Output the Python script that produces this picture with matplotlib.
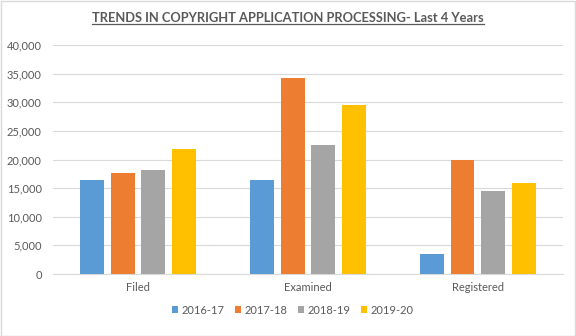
import matplotlib
matplotlib.use("Agg")
import matplotlib.pyplot as plt
import numpy as np
from matplotlib.patches import Rectangle
from matplotlib.ticker import FuncFormatter

categories = ["Filed", "Examined", "Registered"]
series_names = ["2016-17", "2017-18", "2018-19", "2019-20"]
v_2016_17 = [16500, 16500, 3550]
v_2017_18 = [17700, 34300, 20000]
v_2018_19 = [18200, 22600, 14550]
v_2019_20 = [21750, 29600, 15950]
values = [v_2016_17, v_2017_18, v_2018_19, v_2019_20]
colors = ["#5B9BD5", "#ED7D31", "#A5A5A5", "#FFC000"]
yticks = [0, 5000, 10000, 15000, 20000, 25000, 30000, 35000, 40000]

plt.rcParams['font.family'] = ['Lato', 'DejaVu Sans']
fig = plt.figure(figsize=(5.76, 3.36), dpi=100)
ax = fig.add_axes([0.092, 0.1845, 0.885, 0.6815])

x = np.arange(len(categories))
pitch = 0.18
width = 0.141
for i, (name, vals, c) in enumerate(zip(series_names, values, colors)):
    ax.bar(x + (i - 1.5) * pitch, vals, width=width, color=c, label=name, zorder=3)

ax.set_xlim(-0.5, 2.5)
ax.set_ylim(0, 40000)
ax.set_yticks(yticks)
ax.yaxis.set_major_formatter(FuncFormatter(lambda v, p: f"{int(v):,}"))
ax.set_xticks(x)
ax.set_xticklabels(categories)
ax.grid(axis='y', color="#D9D9D9", linewidth=0.8, zorder=0)
for s in ["top", "right", "left"]:
    ax.spines[s].set_visible(False)
ax.spines["bottom"].set_color("#D9D9D9")
ax.tick_params(axis='both', length=0, colors="#595959", labelsize=8)
ax.tick_params(axis='y', pad=8)
ax.tick_params(axis='x', pad=6)

leg = ax.legend(loc='upper center', bbox_to_anchor=(0.47, -0.09), ncol=4, frameon=False,
                fontsize=8, handlelength=0.6, handleheight=0.6, handletextpad=0.3,
                columnspacing=0.9, labelcolor="#595959")

title = fig.text(0.5, 0.945, "TRENDS IN COPYRIGHT APPLICATION PROCESSING- Last 4 Years",
                 ha='center', va='center', fontsize=9.3, fontweight='bold', color="#595959")
fig.canvas.draw()
bb = title.get_window_extent().transformed(fig.transFigure.inverted())
fig.add_artist(plt.Line2D([bb.x0, bb.x1], [bb.y0 + 0.002, bb.y0 + 0.002],
                          transform=fig.transFigure, color="#595959", linewidth=0.9))

fig.add_artist(Rectangle((0.001, 0.001), 0.997, 0.996, transform=fig.transFigure,
                         fill=False, edgecolor="#D9D9D9", linewidth=1))

fig.savefig("out.png", dpi=100, facecolor="white")
